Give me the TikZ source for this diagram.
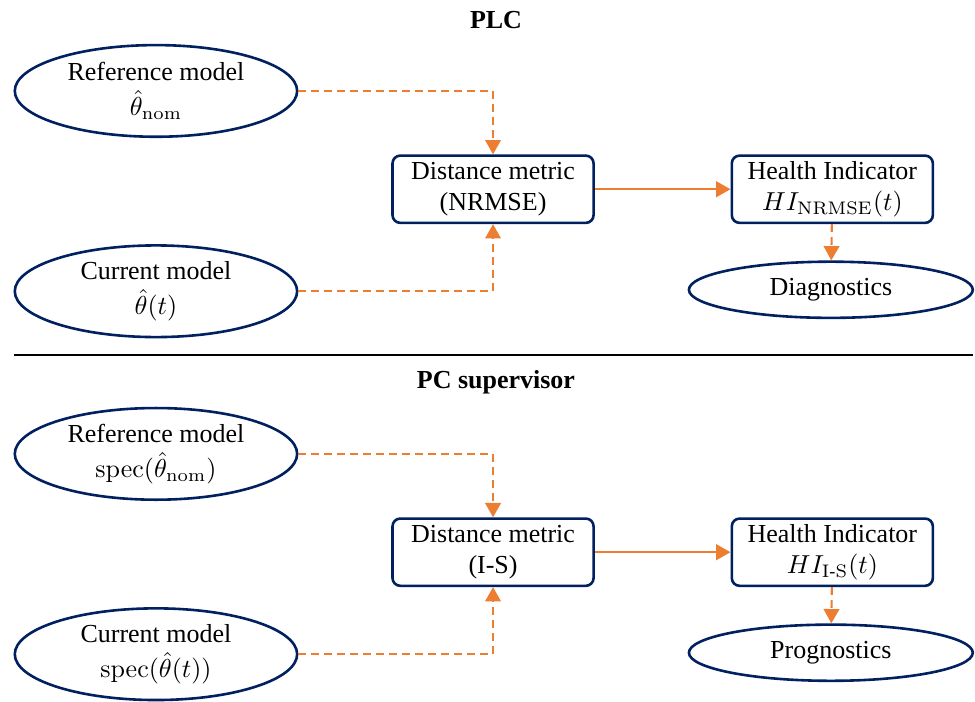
\documentclass[tikz,border=0pt]{standalone}
\usepackage{amsmath}
\usepackage[no-math]{fontspec}
\setmainfont{Liberation Serif}
\usepackage{tikz}
\usetikzlibrary{arrows.meta,positioning,shapes.geometric}
\definecolor{navy}{RGB}{0,32,96}
\definecolor{accent}{RGB}{237,125,49}

\begin{document}
\begin{tikzpicture}[
    model/.style={ellipse, draw=navy, line width=1pt, inner sep=0pt,
                  minimum width=3.82cm, minimum height=1.24cm, align=center},
    outcome/.style={ellipse, draw=navy, line width=1pt, inner sep=0pt,
                    minimum width=3.84cm, minimum height=0.76cm},
    block/.style={rectangle, draw=navy, line width=1pt, rounded corners=3pt,
                  minimum width=2.72cm, minimum height=0.91cm, align=center,
                  inner sep=2pt},
    flow/.style={-{Triangle[length=5.5pt,width=6pt]}, accent, line width=0.8pt},
    link/.style={flow, dash pattern=on 3pt off 2pt}
]
\useasboundingbox (0,0) rectangle (13.19,-9.49);

% PLC part
\node[font=\bfseries] (plc) at (6.71,-0.27) {PLC};
\node[model] (refA) at (2.11,-1.23) {Reference model\\[1.5pt]$\hat{\theta}_{\mathrm{nom}}$};
\node[model] (curA) at (2.11,-3.94) {Current model\\[1.5pt]$\hat{\theta}(t)$};
\node[block] (distA) at (6.67,-2.56) {Distance metric\\(NRMSE)};
\node[block] (hiA) at (11.26,-2.56) {Health Indicator\\$HI_{\mathrm{NRMSE}}(t)$};
\node[outcome] (diag) at (11.24,-3.92) {Diagnostics};

\draw[link] (refA.east) -| (distA.north);
\draw[link] (curA.east) -| (distA.south);
\draw[flow] (distA) -- (hiA);
\draw[link] (hiA) -- (diag);

% separator
\coordinate (sepL) at (0.19,-4.80);
\coordinate (sepR) at (13.16,-4.80);
\draw[line width=0.9pt] (sepL) -- (sepR);

% PC supervisor part
\node[font=\bfseries] (pc) at (6.71,-5.17) {PC supervisor};
\node[model] (refB) at (2.11,-6.14) {Reference model\\[1.5pt]$\mathrm{spec}(\hat{\theta}_{\mathrm{nom}})$};
\node[model] (curB) at (2.11,-8.85) {Current model\\[1.5pt]$\mathrm{spec}(\hat{\theta}(t))$};
\node[block] (distB) at (6.67,-7.47) {Distance metric\\(I-S)};
\node[block] (hiB) at (11.26,-7.47) {Health Indicator\\$HI_{\mathrm{I\text{-}S}}(t)$};
\node[outcome] (prog) at (11.24,-8.83) {Prognostics};

\draw[link] (refB.east) -| (distB.north);
\draw[link] (curB.east) -| (distB.south);
\draw[flow] (distB) -- (hiB);
\draw[link] (hiB) -- (prog);

\end{tikzpicture}
\end{document}
